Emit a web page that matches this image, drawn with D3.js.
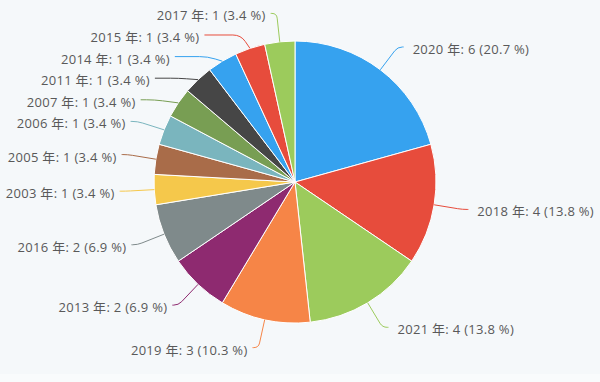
<!DOCTYPE html>
<html>
<head>
<meta charset="utf-8">
<script src="https://cdn.jsdelivr.net/npm/d3@7"></script>
<style>
  html, body { margin: 0; padding: 0; background: #f5f8fa; }
  svg { display: block; }
</style>
</head>
<body>
<svg id="chart" width="600" height="382"></svg>
<script>
// ---- data (clockwise from 12 o'clock) ----
const years  = ["2020", "2018", "2021", "2019", "2013", "2016", "2003", "2005", "2006", "2007", "2011", "2014", "2015", "2017"];
const counts = [6, 4, 4, 3, 2, 2, 1, 1, 1, 1, 1, 1, 1, 1];
const palette = ["#36a2ef", "#e74c3c", "#9ccb5c", "#f68547", "#8e2a70", "#7f8a8b", "#f5c84b", "#a96c49", "#7ab5be", "#789e53", "#464646"];
const unit = " 年";

// ---- layout ----
const W = 600, H = 382;
const cx = 295, cy = 182, r = 141;
const rA = 169.6;      // radius of the label-line elbow
const len2 = 6;        // short horizontal leg
const lineH = 21.6;    // label spacing

const svg = d3.select("#chart");
svg.append("rect").attr("width", W).attr("height", H).attr("fill", "#f5f8fa");
svg.append("rect").attr("y", 374).attr("width", W).attr("height", H - 374).attr("fill", "#f9fbfc");

const total = d3.sum(counts);
const data = years.map((y, i) => ({ year: y, value: counts[i], color: palette[i % palette.length] }));

const pie = d3.pie().sort(null).value(d => d.value).startAngle(0).endAngle(2 * Math.PI);
const arcs = pie(data);
const arc = d3.arc().innerRadius(0).outerRadius(r);

const g = svg.append("g").attr("transform", `translate(${cx},${cy})`);
g.selectAll("path.slice").data(arcs).join("path")
  .attr("class", "slice")
  .attr("d", arc)
  .attr("fill", d => d.data.color)
  .attr("stroke", "#ffffff")
  .attr("stroke-width", 1)
  .attr("stroke-linejoin", "round");

// label geometry
const labels = arcs.map(a => {
  const m = (a.startAngle + a.endAngle) / 2;
  const s = Math.sin(m), c = Math.cos(m);
  const dir = s >= 0 ? 1 : -1;
  const p0 = [cx + r * s, cy - r * c];
  const p2 = [cx + rA * s, cy - rA * c];
  return { a, dir, p0, p2, x: p2[0] + dir * len2, y: p2[1] };
});

[1, -1].forEach(dir => {
  const side = labels.filter(l => l.dir === dir).sort((p, q) => p.y - q.y);
  let shifted = false;
  side.forEach((l, i) => {
    const minY = i === 0 ? lineH / 2 : side[i - 1].y + lineH;
    if (l.y < minY) { l.y = minY; shifted = true; }
  });
  if (shifted) {
    side.forEach(l => {
      const dy = Math.abs(l.y - cy);
      const dx = Math.sqrt(Math.max(rA * rA - dy * dy, 0));
      l.x = cx + dir * (dx + len2);
    });
  }
});

function linePath(l) {
  const p0 = l.p0, p1 = [l.p2[0], l.y], p3 = [l.x, l.y];
  const d1 = Math.hypot(p0[0] - p1[0], p0[1] - p1[1]);
  const d2 = Math.hypot(p3[0] - p1[0], p3[1] - p1[1]);
  const k = Math.min(8, d1 * 0.6, d2 * 0.8);
  const a = [p1[0] + (p0[0] - p1[0]) * k / (d1 || 1), p1[1] + (p0[1] - p1[1]) * k / (d1 || 1)];
  const b = [p1[0] + (p3[0] - p1[0]) * k / (d2 || 1), p1[1] + (p3[1] - p1[1]) * k / (d2 || 1)];
  const p = d3.path();
  p.moveTo(p0[0], p0[1]);
  p.lineTo(a[0], a[1]);
  p.quadraticCurveTo(p1[0], p1[1], b[0], b[1]);
  p.lineTo(p3[0], p3[1]);
  return p.toString();
}

svg.append("g").selectAll("path").data(labels).join("path")
  .attr("d", linePath)
  .attr("fill", "none")
  .attr("stroke", l => l.a.data.color)
  .attr("stroke-width", 1);

svg.append("g").selectAll("text").data(labels).join("text")
  .attr("x", l => l.x + (l.dir > 0 ? 9 : -5))
  .attr("y", l => l.y + 7)
  .attr("text-anchor", l => l.dir > 0 ? "start" : "end")
  .attr("font-family", "'Open Sans', 'Noto Sans CJK JP', sans-serif")
  .attr("font-size", 13)
  .attr("letter-spacing", "0.3px")
  .attr("fill", "#595959")
  .text(l => `${l.a.data.year}${unit}: ${l.a.data.value} (${(l.a.data.value / total * 100).toFixed(1)} %)`);
</script>
</body>
</html>
